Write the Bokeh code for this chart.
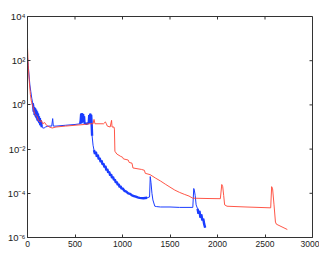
from bokeh.plotting import figure
from bokeh.models import Range1d, FixedTicker, CustomJSTickFormatter
from bokeh.embed import file_html
from bokeh.resources import INLINE

# blue series
blue_x = [0, 8, 15, 25, 35, 45, 55, 60, 65, 70, 75, 80, 85, 90, 95, 100, 105, 110, 115, 120, 125, 130,
          135, 140, 150, 160, 175, 190, 215, 255, 265, 272, 300, 400, 500, 555, 560, 565, 570, 575, 580,
          585, 590, 595, 600, 620, 640, 645, 650, 655, 660, 665, 670, 675, 680, 690,
          700, 710, 720, 730, 740, 750, 760, 770, 780, 790, 800, 810, 820, 830, 840, 850, 860, 870, 880,
          890, 900, 910, 920, 930, 940, 950, 960, 970, 980, 990, 1000, 1020, 1040, 1060, 1080, 1100,
          1120, 1140, 1160, 1180, 1220, 1260, 1285, 1292, 1300, 1310, 1320, 1340, 1360, 1400, 1500,
          1600, 1740, 1750, 1756, 1765, 1775, 1790, 1800, 1810, 1820, 1830, 1840, 1850, 1860, 1870]
blue_y = [140, 60, 25, 8, 4, 2, 1.2, 0.9, 0.5, 0.8, 0.35, 0.7, 0.3, 0.6, 0.25, 0.5, 0.2, 0.4, 0.18, 0.3,
          0.15, 0.25, 0.12, 0.2, 0.1, 0.09, 0.09, 0.1, 0.11, 0.11, 0.24, 0.11, 0.11, 0.12, 0.13, 0.14,
          0.2, 0.4, 0.15, 0.42, 0.17, 0.38, 0.2, 0.3, 0.15, 0.14, 0.15, 0.16, 0.35, 0.15, 0.4, 0.18,
          0.36, 0.15, 0.04, 0.015,
          9e-3, 6e-3, 7.5e-3, 4.5e-3, 5.5e-3, 3.5e-3, 4e-3, 2.6e-3, 3e-3, 2e-3, 2.2e-3, 1.5e-3, 1.7e-3,
          1.1e-3, 1.25e-3, 8.5e-4, 9.5e-4, 6.5e-4, 7.2e-4, 5e-4, 5.5e-4, 4e-4, 4.2e-4, 3e-4, 3.3e-4,
          2.4e-4, 2.6e-4, 1.9e-4, 2.1e-4, 1.6e-4, 1.7e-4, 1.3e-4, 1.2e-4, 1e-4, 9.5e-5, 8e-5, 7.5e-5,
          7e-5, 6.5e-5, 6.2e-5, 6e-5, 6.3e-5, 6.8e-5, 5.7e-4, 3e-4, 1e-4, 5e-5, 2.6e-5, 2.5e-5, 2.4e-5,
          2.4e-5, 2.3e-5, 2.3e-5, 1.65e-4, 1.4e-4, 8e-5, 3e-5, 2e-5, 1.2e-5, 1.6e-5, 8e-6, 1.1e-5, 6e-6,
          7e-6, 4e-6, 2.8e-6]

# x-windows where the blue trace is noisy (drawn as a thicker band)
blue_noisy = [(50, 150), (555, 680), (700, 1270), (1790, 1870)]

# red series
red_x = [0, 5, 10, 20, 30, 40, 55, 65, 75, 85, 100, 115, 130, 145, 160, 180, 200, 230, 260, 300, 400,
         500, 600, 650, 690, 700, 710, 800, 820, 830, 840, 870, 885, 890, 910, 915, 920, 940, 980, 1000,
         1010, 1060, 1070, 1100, 1110, 1200, 1230, 1240, 1290, 1350, 1400, 1450, 1500, 1550, 1600,
         1650, 1700, 1740, 1900, 2030, 2045, 2055, 2065, 2075, 2100, 2300, 2560, 2570, 2580, 2595,
         2610, 2620, 2735]
red_y = [400, 120, 40, 10, 3, 1.5, 0.9, 0.6, 0.4, 0.35, 0.3, 0.2, 0.17, 0.2, 0.14, 0.16, 0.12, 0.1,
         0.09, 0.1, 0.11, 0.12, 0.13, 0.14, 0.14, 0.22, 0.14, 0.14, 0.17, 0.14, 0.11, 0.1, 0.2, 0.1,
         0.1, 0.08, 8e-3, 6e-3, 4.7e-3, 4.3e-3, 3.6e-3, 3.2e-3, 2.5e-3, 2.3e-3, 1.4e-3, 1.2e-3, 1.1e-3,
         8e-4, 7e-4, 4.8e-4, 3.6e-4, 2.6e-4, 1.9e-4, 1.4e-4, 1.1e-4, 9e-5, 7.5e-5, 6e-5, 5.8e-5,
         5.7e-5, 2.5e-4, 2e-4, 8e-5, 3e-5, 2.6e-5, 2.4e-5, 2.2e-5, 2e-4, 1.6e-4, 3e-5, 5e-6, 4e-6,
         2.3e-6]

x_ticks = [0, 500, 1000, 1500, 2000, 2500, 3000]
y_ticks = [1e-6, 1e-4, 1e-2, 1, 1e2, 1e4]
x_min, x_max = 0, 3000
y_min, y_max = 1e-6, 1e4

FONT = "Liberation Sans"
AX = "#333333"
BLUE = "#1a3cff"
RED = "#ff4433"

p = figure(width=319, height=252, output_backend="svg", toolbar_location=None,
           x_range=Range1d(x_min, x_max), y_range=Range1d(y_min, y_max), y_axis_type="log",
           min_border_left=27, min_border_right=7, min_border_top=16, min_border_bottom=15)
p.grid.visible = False
p.outline_line_color = AX
p.background_fill_color = "white"

p.line(blue_x, blue_y, line_color=BLUE, line_width=1)
for a, b in blue_noisy:
    xs = [x for x in blue_x if a <= x <= b]
    ys = [y for x, y in zip(blue_x, blue_y) if a <= x <= b]
    p.line(xs, ys, line_color=BLUE, line_width=2.4)
p.line(red_x, red_y, line_color=RED, line_width=1, line_alpha=0.9)

# mirrored inward ticks on top and right edges
p.ray(x=x_ticks, y=[y_max] * len(x_ticks), length=3, length_units="screen",
      angle=-1.5707963, line_color=AX, line_width=1)
p.ray(x=[x_max] * len(y_ticks), y=y_ticks, length=3, length_units="screen",
      angle=3.14159265, line_color=AX, line_width=1)

sup = CustomJSTickFormatter(code="""
const e = Math.round(Math.log10(tick));
const m = {'0':'\u2070','1':'\u00b9','2':'\u00b2','3':'\u00b3','4':'\u2074','5':'\u2075','6':'\u2076','7':'\u2077','8':'\u2078','9':'\u2079','-':'\u207b'};
return '10' + String(e).split('').map(c => m[c]).join('');
""")

p.xaxis.ticker = FixedTicker(ticks=x_ticks)
p.yaxis.ticker = FixedTicker(ticks=y_ticks)
p.yaxis.formatter = sup

for ax in [p.xaxis[0], p.yaxis[0]]:
    ax.major_tick_in = 3
    ax.major_tick_out = 0
    ax.minor_tick_line_color = None
    ax.axis_line_color = AX
    ax.major_tick_line_color = AX
    ax.major_label_text_font = FONT
    ax.major_label_text_color = "#222222"
    ax.major_label_standoff = 3
p.xaxis.major_label_text_font_size = "8.5px"
p.yaxis.major_label_text_font_size = "9.5px"
p.yaxis.major_label_standoff = 2

open("out.html", "w").write(file_html(p, INLINE))
